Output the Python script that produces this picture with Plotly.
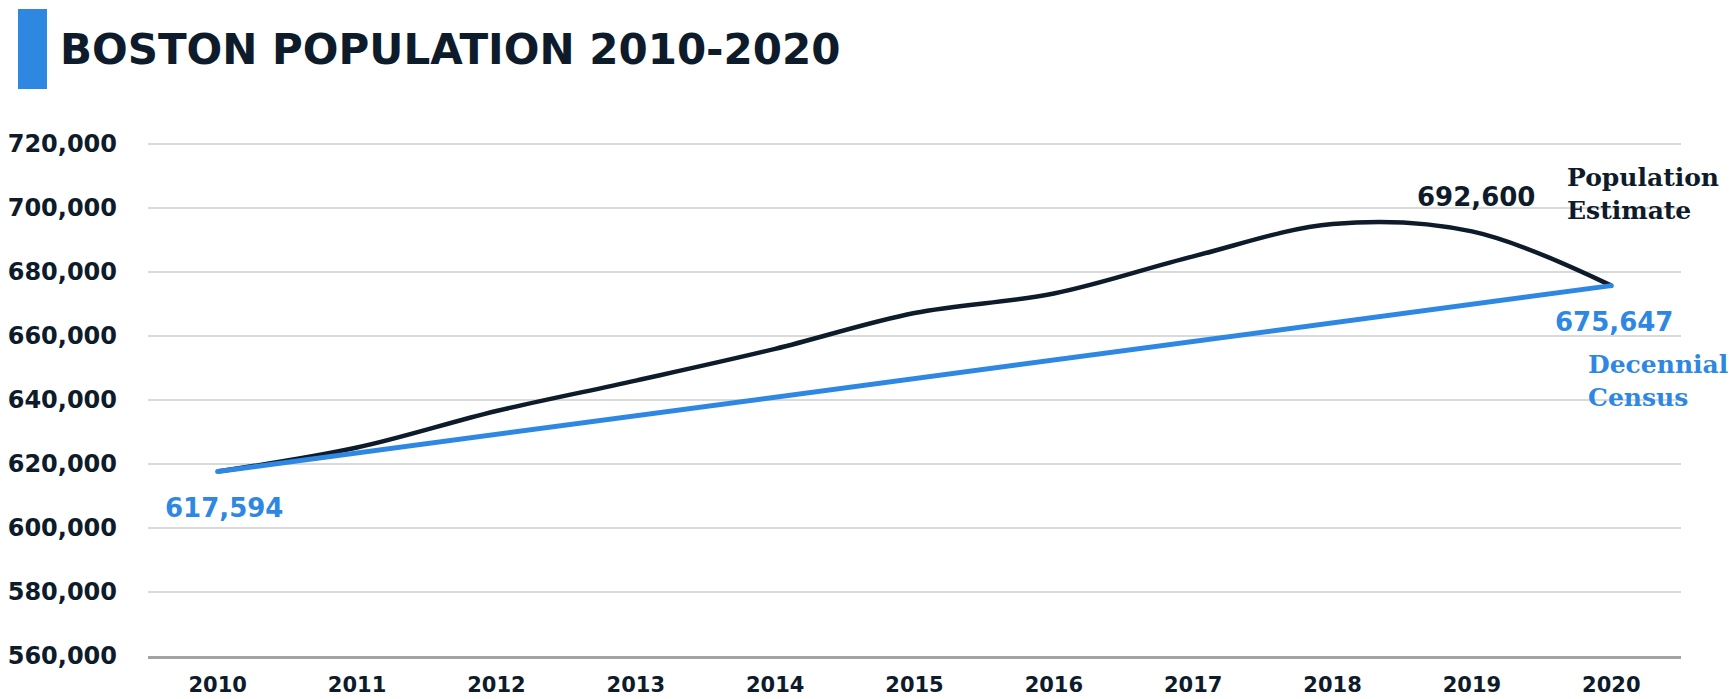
import plotly.graph_objects as go

# Boston population, annual estimates vs. decennial census counts
years = [2010, 2011, 2012, 2013, 2014, 2015, 2016, 2017, 2018, 2019, 2020]
estimate = [617594, 625100, 636500, 646000, 655900, 667100, 673200, 684800, 694900, 692600, 675647]
census_years = [2010, 2020]
census = [617594, 675647]

y_ticks = [560000, 580000, 600000, 620000, 640000, 660000, 680000, 700000, 720000]
y_tick_text = [f"{v:,}" for v in y_ticks]

NAVY = "#0D1B2A"
BLUE = "#2E88E2"
SANS = "DejaVu Sans"
SERIF = "DejaVu Serif"

W, H = 1733, 699
L, R, T, B = 148, 52, 142, 43
PW, PH = W - L - R, H - T - B


def px(x):
    return (x - L) / PW


def py(y):
    return (H - B - y) / PH


fig = go.Figure()

fig.add_trace(go.Scatter(
    x=years, y=estimate, mode="lines",
    line=dict(color=NAVY, width=4.5, shape="spline", smoothing=1.0),
    name="Population Estimate", hoverinfo="x+y",
))
fig.add_trace(go.Scatter(
    x=census_years, y=census, mode="lines+markers",
    line=dict(color=BLUE, width=5),
    marker=dict(color=BLUE, size=5),
    name="Decennial Census", hoverinfo="x+y",
))

# value labels tied to the points they describe
fig.add_annotation(x=census_years[0], y=census[0], text=f"<b>{census[0]:,}</b>",
                   showarrow=False, xshift=6, yshift=-36,
                   font=dict(family=SANS, size=26, color=BLUE))
fig.add_annotation(x=census_years[1], y=census[1], text=f"<b>{census[1]:,}</b>",
                   showarrow=False, xshift=3, yshift=-36,
                   font=dict(family=SANS, size=26, color=BLUE))
fig.add_annotation(x=years[9], y=estimate[9], text=f"<b>{estimate[9]:,}</b>",
                   showarrow=False, xshift=4, yshift=34,
                   font=dict(family=SANS, size=26, color=NAVY))

# series names at the right edge
fig.add_annotation(xref="paper", yref="paper", x=px(1565), y=py(194),
                   xanchor="left", yanchor="middle", align="left",
                   text="<b>Population<br>Estimate</b>", showarrow=False,
                   font=dict(family=SERIF, size=25, color=NAVY))
fig.add_annotation(xref="paper", yref="paper", x=px(1586), y=py(381),
                   xanchor="left", yanchor="middle", align="left",
                   text="<b>Decennial<br>Census</b>", showarrow=False,
                   font=dict(family=SERIF, size=25, color=BLUE))

# title with accent bar
fig.add_shape(type="rect", xref="paper", yref="paper",
              x0=px(18), x1=px(47), y0=py(9), y1=py(89),
              fillcolor=BLUE, line=dict(width=0), layer="above")
fig.add_annotation(xref="paper", yref="paper", x=px(58), y=py(50),
                   xanchor="left", yanchor="middle", showarrow=False,
                   text="<b>BOSTON POPULATION 2010-2020</b>",
                   font=dict(family=SANS, size=42, color=NAVY))

fig.update_layout(
    width=W, height=H,
    margin=dict(l=L, r=R, t=T, b=B),
    paper_bgcolor="white", plot_bgcolor="white",
    showlegend=False,
    xaxis=dict(
        range=[2009.5, 2020.5], tickmode="array", tickvals=years,
        ticktext=[f"<b>{y}</b>" for y in years],
        tickfont=dict(family=SANS, size=21, color=NAVY),
        showgrid=False, zeroline=False,
        showline=True, linecolor="#A3A3A3", linewidth=3,
        ticks="", ticklabelstandoff=8, automargin=False,
    ),
    yaxis=dict(
        range=[560000, 720500], tickmode="array", tickvals=y_ticks,
        ticktext=[f"<b>{t}</b>" for t in y_tick_text],
        tickfont=dict(family=SANS, size=24, color=NAVY),
        showgrid=True, gridcolor="#DADADA", gridwidth=2,
        zeroline=False, showline=False,
        ticks="", ticklabelstandoff=30, automargin=False,
    ),
)

fig.write_html("out.html")
